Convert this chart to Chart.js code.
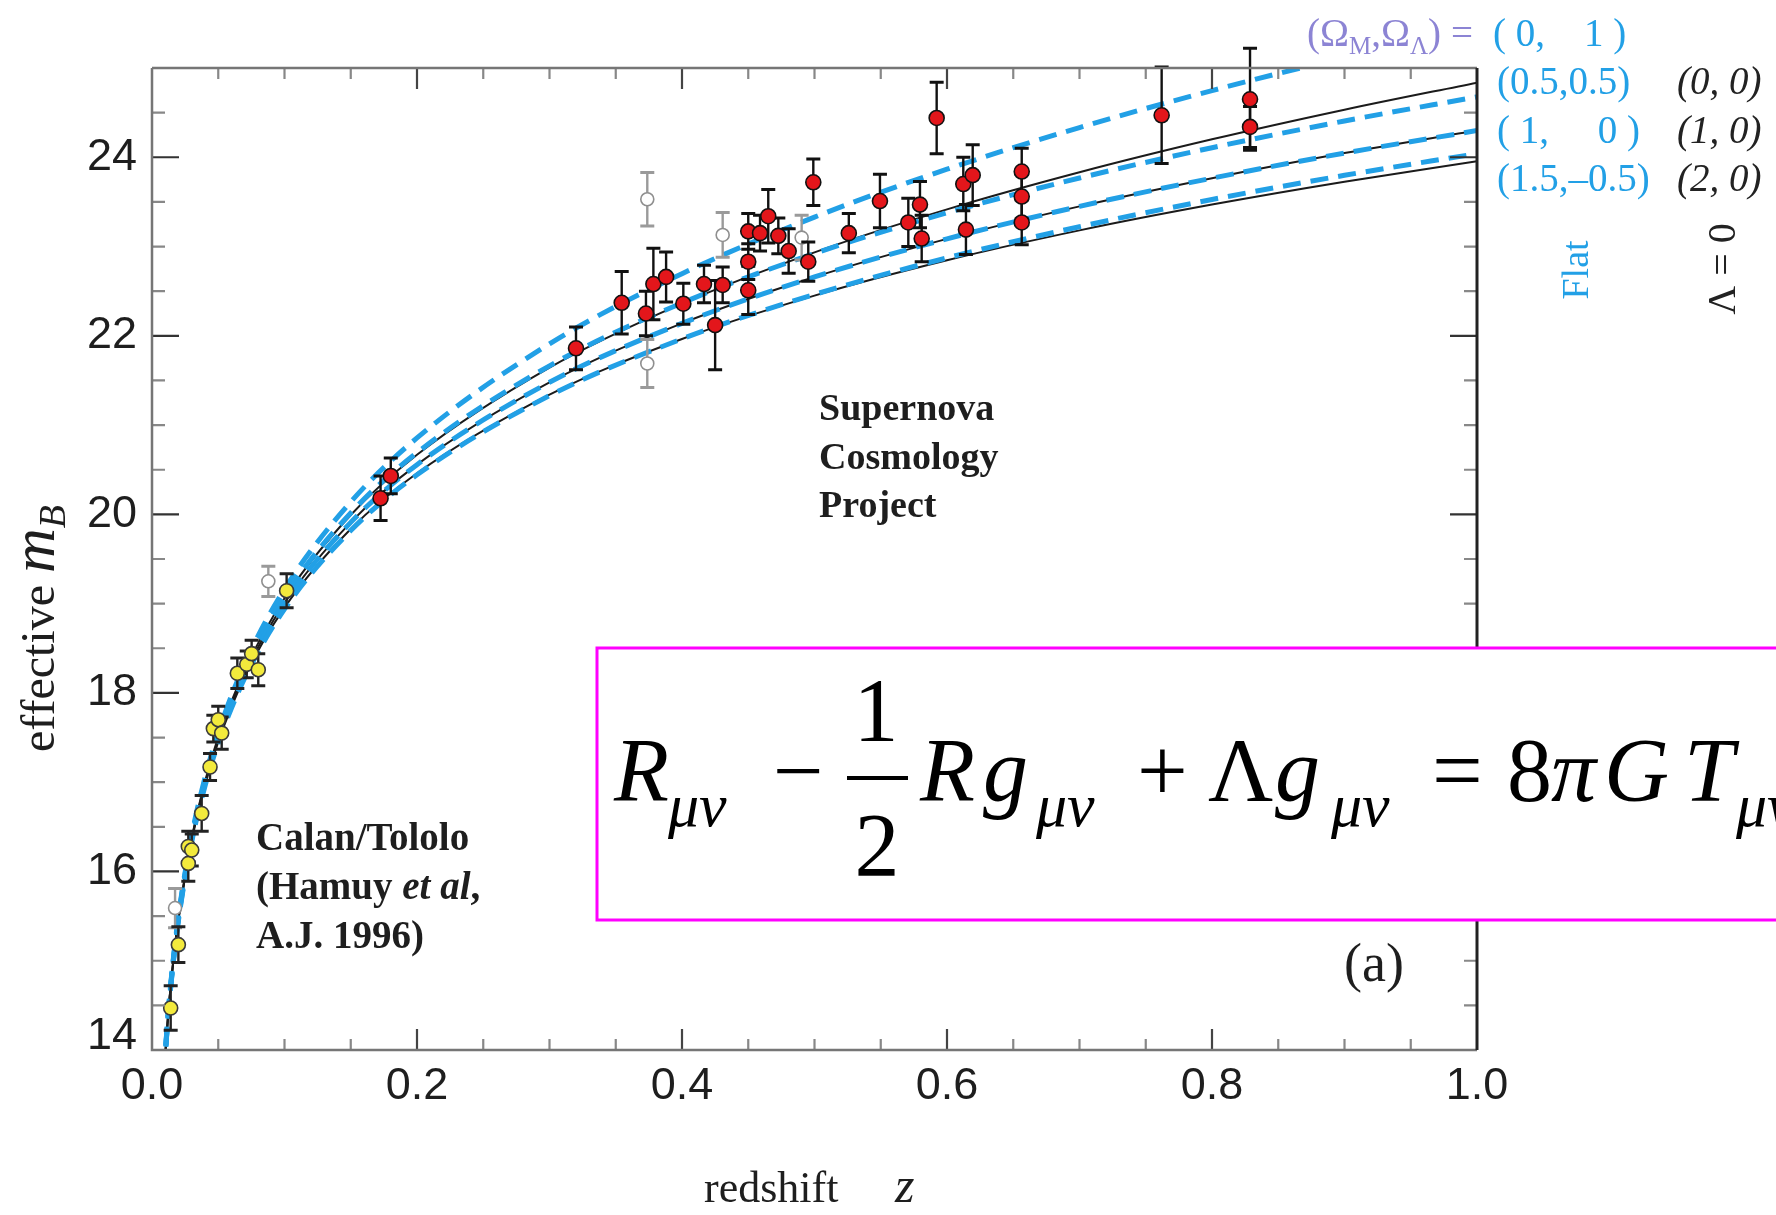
<!DOCTYPE html>
<html>
<head>
<meta charset="utf-8">
<title>Hubble diagram - effective m_B vs redshift z</title>
<script src="https://cdn.jsdelivr.net/npm/chart.js@4.4.1/dist/chart.umd.min.js"></script>
<style>
  html, body { margin: 0; padding: 0; background: #ffffff; }
  #wrap { width: 1776px; height: 1215px; position: relative; }
</style>
</head>
<body>
<div id="wrap"><canvas id="hubbleChart" width="1776" height="1215"></canvas></div>
<script>
// Model curves at these redshifts
const zGrid = [0.009, 0.012, 0.015, 0.02, 0.03, 0.04, 0.05, 0.07, 0.1, 0.15, 0.2, 0.3, 0.4, 0.5, 0.6, 0.7, 0.8, 0.9, 1.0];

// flat models (blue dashed)
const flat_0_1 = [13.746, 14.377, 14.868, 15.503, 16.405, 17.051, 17.556, 18.327, 19.162, 20.139, 20.856, 21.910, 22.696, 23.330, 23.866, 24.333, 24.747, 25.120, 25.460];
const flat_05_05 = [13.738, 14.367, 14.856, 15.487, 16.380, 17.018, 17.515, 18.270, 19.080, 20.016, 20.691, 21.664, 22.368, 22.922, 23.379, 23.768, 24.107, 24.407, 24.676];
const flat_1_0 = [13.731, 14.357, 14.844, 15.471, 16.357, 16.986, 17.476, 18.217, 19.006, 19.910, 20.557, 21.479, 22.140, 22.659, 23.086, 23.450, 23.766, 24.047, 24.299];
const flat_15_m05 = [13.724, 14.348, 14.832, 15.455, 16.334, 16.956, 17.439, 18.167, 18.939, 19.818, 20.443, 21.330, 21.965, 22.463, 22.873, 23.222, 23.527, 23.798, 24.041];

// Lambda = 0 models (black solid)
const open_0_0 = [13.736, 14.364, 14.852, 15.482, 16.373, 17.008, 17.504, 18.255, 19.061, 19.993, 20.667, 21.644, 22.361, 22.935, 23.416, 23.832, 24.201, 24.533, 24.836];
const open_1_0 = flat_1_0;
const closed_2_0 = [13.726, 14.351, 14.836, 15.460, 16.341, 16.965, 17.450, 18.181, 18.955, 19.836, 20.460, 21.341, 21.965, 22.450, 22.846, 23.181, 23.470, 23.726, 23.955];

// Supernova Cosmology Project (red)
const scpZ = [0.1725, 0.1802, 0.320, 0.3545, 0.3728, 0.3784, 0.388, 0.401, 0.4166, 0.425, 0.4307, 0.450, 0.450, 0.450, 0.4589, 0.4651, 0.4727, 0.4805, 0.4953, 0.4991, 0.5259, 0.5494, 0.5708, 0.5796, 0.5809, 0.5922, 0.6123, 0.6143, 0.6194, 0.6564, 0.6564, 0.6564, 0.762, 0.8287, 0.8287];
const scpMag = [20.18, 20.43, 21.86, 22.37, 22.25, 22.58, 22.66, 22.36, 22.58, 22.12, 22.57, 23.17, 22.83, 22.51, 23.15, 23.34, 23.12, 22.95, 22.83, 23.72, 23.15, 23.51, 23.27, 23.47, 23.09, 24.44, 23.70, 23.19, 23.80, 23.84, 23.56, 23.27, 24.47, 24.65, 24.34];
const scpErr = [0.25, 0.20, 0.24, 0.35, 0.25, 0.40, 0.28, 0.23, 0.21, 0.50, 0.20, 0.20, 0.20, 0.27, 0.20, 0.30, 0.20, 0.25, 0.22, 0.26, 0.22, 0.30, 0.27, 0.26, 0.26, 0.40, 0.30, 0.28, 0.34, 0.26, 0.25, 0.25, 0.54, 0.57, 0.23];

// Calan/Tololo (yellow)
const ctZ = [0.0141, 0.0199, 0.0274, 0.0274, 0.0300, 0.0375, 0.0438, 0.0463, 0.0500, 0.0526, 0.0644, 0.0715, 0.0752, 0.0802, 0.1016];
const ctMag = [14.47, 15.18, 16.09, 16.28, 16.24, 16.65, 17.17, 17.60, 17.70, 17.55, 18.22, 18.32, 18.44, 18.26, 19.145];
const ctErr = [0.25, 0.20, 0.20, 0.17, 0.18, 0.20, 0.15, 0.15, 0.15, 0.18, 0.17, 0.15, 0.15, 0.18, 0.19];

// excluded points (open circles)
const exZ = [0.0174, 0.0878, 0.3738, 0.3738, 0.4307, 0.4903];
const exMag = [15.59, 19.25, 23.53, 21.69, 23.13, 23.10];
const exErr = [0.22, 0.17, 0.30, 0.27, 0.25, 0.25];

// axis ticks
const xTickValues = [0.0, 0.2, 0.4, 0.6, 0.8, 1.0];
const xTickLabels = ['0.0', '0.2', '0.4', '0.6', '0.8', '1.0'];
const yTickValues = [14, 16, 18, 20, 22, 24];
const yTickLabels = ['14', '16', '18', '20', '22', '24'];

const chartColors = {
    flat: '#22a0e6',
    lambdaZero: '#1b1b1b',
    scp: '#e3161b',
    calan: '#f3ea3c',
    excluded: '#8f8f8f',
    axis: '#767676',
    text: '#1e1e1e',
    purple: '#8c84d4',
    box: '#ff00ff'
};

const SERIF = '"Liberation Serif", "Times New Roman", serif';
const SANS = '"Liberation Sans", Arial, sans-serif';

function toPoints(xs, ys) {
    return xs.map((x, i) => ({ x: x, y: ys[i] }));
}

function curve(label, ys, color, width, dash, order) {
    return {
        type: 'line',
        label: label,
        data: toPoints(zGrid, ys),
        borderColor: color,
        borderWidth: width,
        borderDash: dash,
        pointRadius: 0,
        fill: false,
        cubicInterpolationMode: 'monotone',
        order: order
    };
}

function markers(label, xs, ys, errs, fill, edge, radius, barColor, order) {
    return {
        type: 'scatter',
        label: label,
        data: toPoints(xs, ys),
        errors: errs,
        barColor: barColor,
        pointRadius: radius,
        pointBackgroundColor: fill,
        pointBorderColor: edge,
        pointBorderWidth: 1.6,
        clip: false,
        order: order
    };
}

// error bars, drawn just before each marker set
const errorBars = {
    id: 'errorBars',
    beforeDatasetDraw(chart, args) {
        const ds = chart.data.datasets[args.index];
        if (!ds.errors) return;
        const { ctx, scales: { x, y } } = chart;
        ctx.save();
        ctx.strokeStyle = ds.barColor;
        ds.data.forEach((p, i) => {
            const px = x.getPixelForValue(p.x);
            const top = y.getPixelForValue(p.y + ds.errors[i]);
            const bot = y.getPixelForValue(p.y - ds.errors[i]);
            ctx.lineWidth = 2.4;
            ctx.beginPath();
            ctx.moveTo(px, top);
            ctx.lineTo(px, bot);
            ctx.stroke();
            ctx.lineWidth = 3;
            ctx.beginPath();
            ctx.moveTo(px - 7, top);
            ctx.lineTo(px + 7, top);
            ctx.moveTo(px - 7, bot);
            ctx.lineTo(px + 7, bot);
            ctx.stroke();
        });
        ctx.restore();
    }
};

// inward ticks, frame and tick labels
const frameAndTicks = {
    id: 'frameAndTicks',
    afterDatasetsDraw(chart) {
        const { ctx, chartArea: a, scales: { x, y } } = chart;
        ctx.save();
        ctx.lineCap = 'butt';

        for (let k = 1; k < 20; k++) {
            const px = x.getPixelForValue(k * 0.05);
            const len = k % 4 === 0 ? 21 : 11;
            ctx.strokeStyle = k % 4 === 0 ? '#444' : '#888';
            ctx.lineWidth = 2.2;
            ctx.beginPath();
            ctx.moveTo(px, a.bottom);
            ctx.lineTo(px, a.bottom - len);
            ctx.moveTo(px, a.top);
            ctx.lineTo(px, a.top + len);
            ctx.stroke();
        }
        for (let k = 1; k < 22; k++) {
            const v = 14 + k * 0.5;
            const py = y.getPixelForValue(v);
            const major = v % 2 === 0;
            const len = major ? 27 : 13;
            ctx.strokeStyle = major ? '#333' : '#888';
            ctx.lineWidth = 2.2;
            ctx.beginPath();
            ctx.moveTo(a.left, py);
            ctx.lineTo(a.left + len, py);
            ctx.moveTo(a.right, py);
            ctx.lineTo(a.right - len, py);
            ctx.stroke();
        }

        ctx.lineWidth = 2.5;
        ctx.strokeStyle = chartColors.axis;
        ctx.beginPath();
        ctx.moveTo(a.left, a.top);
        ctx.lineTo(a.left, a.bottom);
        ctx.lineTo(a.right, a.bottom);
        ctx.moveTo(a.left, a.top);
        ctx.lineTo(a.right, a.top);
        ctx.stroke();
        ctx.lineWidth = 3;
        ctx.strokeStyle = '#222';
        ctx.beginPath();
        ctx.moveTo(a.right, a.top);
        ctx.lineTo(a.right, a.bottom);
        ctx.stroke();

        ctx.fillStyle = chartColors.text;
        ctx.font = '45px ' + SANS;
        ctx.textAlign = 'right';
        ctx.textBaseline = 'middle';
        yTickValues.forEach((v, i) => {
            const py = Math.min(y.getPixelForValue(v), a.bottom - 13);
            ctx.fillText(yTickLabels[i], a.left - 15, py);
        });
        ctx.textAlign = 'center';
        xTickValues.forEach((v, i) => {
            ctx.fillText(xTickLabels[i], x.getPixelForValue(v), a.bottom + 37);
        });
        ctx.restore();
    }
};

function drawRun(ctx, x, y, parts) {
    parts.forEach(p => {
        ctx.font = p.font;
        ctx.fillStyle = p.color;
        ctx.fillText(p.text, x, y + (p.dy || 0));
        x += ctx.measureText(p.text).width;
    });
    return x;
}

// titles, labels, legend and the equation box
const annotations = {
    id: 'annotations',
    afterDraw(chart) {
        const ctx = chart.ctx;
        const blue = chartColors.flat;
        ctx.save();
        ctx.textAlign = 'left';
        ctx.textBaseline = 'alphabetic';

        // axis titles
        drawRun(ctx, 704, 1202, [
            { text: 'redshift', font: '44px ' + SERIF, color: chartColors.text }
        ]);
        drawRun(ctx, 895, 1202, [
            { text: 'z', font: 'italic 50px ' + SERIF, color: chartColors.text }
        ]);
        ctx.save();
        ctx.translate(54, 752);
        ctx.rotate(-Math.PI / 2);
        drawRun(ctx, 0, 0, [
            { text: 'effective ', font: '48px ' + SERIF, color: chartColors.text },
            { text: 'm', font: 'italic 62px ' + SERIF, color: chartColors.text },
            { text: 'B', font: 'italic 38px ' + SERIF, color: chartColors.text, dy: 11 }
        ]);
        ctx.restore();

        // data set captions
        const bold = 'bold 38px ' + SERIF;
        ctx.fillStyle = chartColors.text;
        ctx.font = bold;
        ctx.fillText('Supernova', 819, 420);
        ctx.fillText('Cosmology', 819, 469);
        ctx.fillText('Project', 819, 517);
        ctx.font = 'bold 39px ' + SERIF;
        ctx.fillText('Calan/Tololo', 256, 850);
        drawRun(ctx, 256, 899, [
            { text: '(Hamuy ', font: 'bold 39px ' + SERIF, color: chartColors.text },
            { text: 'et al', font: 'italic bold 39px ' + SERIF, color: chartColors.text },
            { text: ',', font: 'bold 39px ' + SERIF, color: chartColors.text }
        ]);
        ctx.font = 'bold 39px ' + SERIF;
        ctx.fillText('A.J. 1996)', 256, 948);
        ctx.font = '54px ' + SERIF;
        ctx.textAlign = 'center';
        ctx.fillText('(a)', 1374, 981);
        ctx.textAlign = 'left';

        // model legend
        const lf = '39px ' + SERIF;
        const sf = '25px ' + SERIF;
        drawRun(ctx, 1307, 46, [
            { text: '(\u03A9', font: lf, color: chartColors.purple },
            { text: 'M', font: sf, color: chartColors.purple, dy: 8 },
            { text: ',\u03A9', font: lf, color: chartColors.purple },
            { text: '\u039B', font: sf, color: chartColors.purple, dy: 8 },
            { text: ')', font: lf, color: chartColors.purple }
        ]);
        drawRun(ctx, 1451, 46, [{ text: '=', font: lf, color: chartColors.purple }]);
        drawRun(ctx, 1493, 46, [{ text: '( 0,    1 )', font: lf, color: blue }]);
        const flatRows = ['(0.5,0.5)', '( 1,     0 )', '(1.5,\u20130.5)'];
        const zeroRows = ['(0, 0)', '(1, 0)', '(2, 0)'];
        [94, 143, 191].forEach((by, i) => {
            drawRun(ctx, 1497, by, [{ text: flatRows[i], font: lf, color: blue }]);
            drawRun(ctx, 1677, by, [{ text: zeroRows[i], font: 'italic 39px ' + SERIF, color: '#222' }]);
        });
        ctx.save();
        ctx.translate(1588, 270);
        ctx.rotate(-Math.PI / 2);
        ctx.textAlign = 'center';
        ctx.font = '38px ' + SERIF;
        ctx.fillStyle = blue;
        ctx.fillText('Flat', 0, 0);
        ctx.restore();
        ctx.save();
        ctx.translate(1735, 269);
        ctx.rotate(-Math.PI / 2);
        ctx.textAlign = 'center';
        ctx.font = '40px ' + SERIF;
        ctx.fillStyle = '#222';
        ctx.fillText('\u039B = 0', 0, 0);
        ctx.restore();

        // equation box
        ctx.fillStyle = '#ffffff';
        ctx.fillRect(597, 648, 1200, 272);
        ctx.strokeStyle = chartColors.box;
        ctx.lineWidth = 3;
        ctx.strokeRect(597, 648, 1200, 272);

        const it = 'italic 90px ' + SERIF;
        const up = '90px ' + SERIF;
        const sub = 'italic 62px ' + SERIF;
        const base = 801;
        const glyphs = [
            { t: 'R', f: it, x: 614 },
            { t: '\u03BC\u03BD', f: sub, x: 668, dy: 25 },
            { t: '\u2212', f: up, x: 773 },
            { t: 'R', f: it, x: 920 },
            { t: 'g', f: it, x: 983 },
            { t: '\u03BC\u03BD', f: sub, x: 1036, dy: 25 },
            { t: '+', f: up, x: 1137 },
            { t: '\u039B', f: up, x: 1208 },
            { t: 'g', f: it, x: 1275 },
            { t: '\u03BC\u03BD', f: sub, x: 1331, dy: 25 },
            { t: '=', f: up, x: 1432 },
            { t: '8', f: up, x: 1507 },
            { t: '\u03C0', f: it, x: 1551 },
            { t: 'G', f: it, x: 1604 },
            { t: 'T', f: it, x: 1684 },
            { t: '\u03BC\u03BD', f: sub, x: 1736, dy: 25 }
        ];
        ctx.fillStyle = '#000';
        glyphs.forEach(g => {
            ctx.font = g.f;
            ctx.fillText(g.t, g.x, base + (g.dy || 0));
        });
        ctx.font = up;
        ctx.textAlign = 'center';
        ctx.fillText('1', 876, 741);
        ctx.fillText('2', 877, 876);
        ctx.fillRect(847, 776, 61, 4);
        ctx.restore();
    }
};

function initHubbleChart() {
    const ctx = document.getElementById('hubbleChart').getContext('2d');

    window.hubbleChart = new Chart(ctx, {
        type: 'scatter',
        data: {
            datasets: [
                curve('(0, 0)', open_0_0, chartColors.lambdaZero, 2, [], 9),
                curve('(1, 0)', open_1_0, chartColors.lambdaZero, 2, [], 8),
                curve('(2, 0)', closed_2_0, chartColors.lambdaZero, 2, [], 7),
                curve('(0, 1)', flat_0_1, chartColors.flat, 5, [18, 10], 6),
                curve('(0.5, 0.5)', flat_05_05, chartColors.flat, 5, [18, 10], 5),
                curve('(1, 0) flat', flat_1_0, chartColors.flat, 5, [18, 10], 4),
                curve('(1.5, -0.5)', flat_15_m05, chartColors.flat, 5, [18, 10], 3),
                markers('excluded', exZ, exMag, exErr, '#ffffff', chartColors.excluded, 6.5, '#9a9a9a', 2),
                markers('Calan/Tololo', ctZ, ctMag, ctErr, chartColors.calan, '#3a3a3a', 7, '#222', 1),
                markers('Supernova Cosmology Project', scpZ, scpMag, scpErr, chartColors.scp, '#111', 7.5, '#111', 0)
            ]
        },
        options: {
            responsive: false,
            animation: false,
            layout: {
                padding: { left: 152, right: 299, top: 68, bottom: 165 }
            },
            plugins: {
                legend: { display: false },
                tooltip: { enabled: false }
            },
            scales: {
                x: { type: 'linear', min: 0, max: 1, display: false },
                y: { type: 'linear', min: 14, max: 25, display: false }
            }
        },
        plugins: [errorBars, frameAndTicks, annotations]
    });
}

initHubbleChart();
</script>
</body>
</html>
